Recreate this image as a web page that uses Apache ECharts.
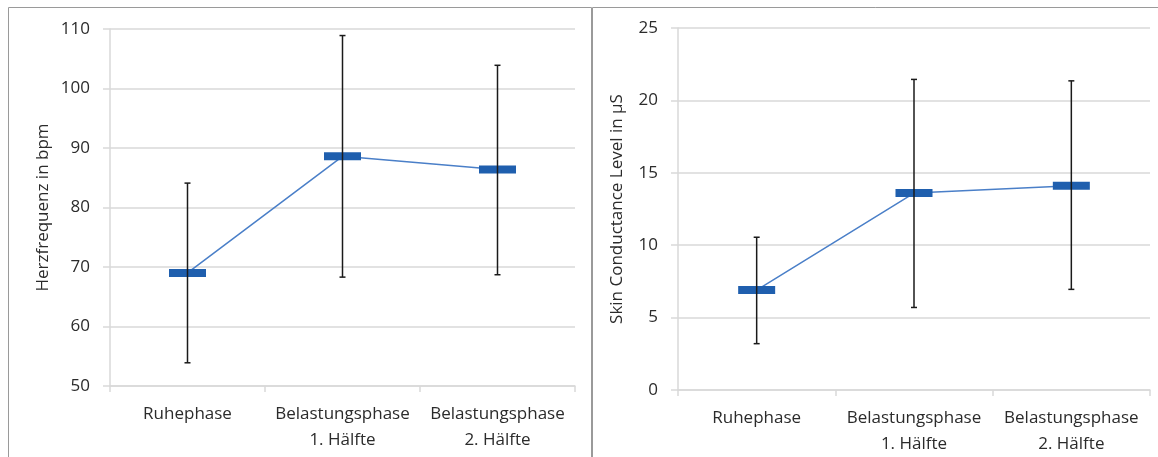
<!DOCTYPE html>
<html>
<head>
<meta charset="utf-8">
<script src="https://cdn.jsdelivr.net/npm/echarts@6/dist/echarts.min.js"></script>
<style>
  html, body { margin: 0; padding: 0; background: #fff; }
  #chart { width: 1158px; height: 457px; }
</style>
</head>
<body>
<div id="chart"></div>
<script>
// categories shared by both panels
var categories = ['Ruhephase', 'Belastungsphase\n1. Hälfte', 'Belastungsphase\n2. Hälfte'];

// Herzfrequenz (bpm): mean, lower and upper end of the error bar
var hrMean = [69.0, 88.6, 86.4];
var hrLow = [53.9, 68.3, 68.7];
var hrHigh = [84.1, 108.9, 103.9];

// Skin Conductance Level (µS)
var sclMean = [6.9, 13.6, 14.1];
var sclLow = [3.2, 5.7, 6.95];
var sclHigh = [10.55, 21.45, 21.35];

var FONT = '"Open Sans", "Liberation Sans", sans-serif';
var GRID_COLOR = '#d9d9d9';
var TEXT_COLOR = '#2b2b2b';

function errData(low, high) {
    var out = [];
    for (var i = 0; i < low.length; i++) {
        out.push([i, low[i], high[i]]);
    }
    return out;
}

function renderErr(params, api) {
    var lo = api.coord([api.value(0), api.value(1)]);
    var hi = api.coord([api.value(0), api.value(2)]);
    var cap = 3;
    var st = { stroke: '#1a1a1a', lineWidth: 1.5 };
    return {
        type: 'group',
        children: [
            { type: 'line', shape: { x1: lo[0], y1: lo[1], x2: hi[0], y2: hi[1] }, style: st },
            { type: 'line', shape: { x1: lo[0] - cap, y1: lo[1], x2: lo[0] + cap, y2: lo[1] }, style: st },
            { type: 'line', shape: { x1: hi[0] - cap, y1: hi[1], x2: hi[0] + cap, y2: hi[1] }, style: st }
        ]
    };
}

function xAxisCfg(gridIndex) {
    return {
        type: 'category',
        gridIndex: gridIndex,
        data: categories,
        boundaryGap: true,
        axisLine: { lineStyle: { color: GRID_COLOR, width: 1.5 } },
        axisTick: { show: true, length: 6, lineStyle: { color: GRID_COLOR, width: 1.5 } },
        axisLabel: {
            color: TEXT_COLOR, fontFamily: FONT, fontSize: 17, lineHeight: 26, margin: 15,
            interval: 0, hideOverlap: false
        }
    };
}

function yAxisCfg(gridIndex, name, min, max, interval, gap) {
    return {
        type: 'value',
        gridIndex: gridIndex,
        min: min,
        max: max,
        interval: interval,
        name: name,
        nameLocation: 'middle',
        nameGap: gap,
        nameTextStyle: { color: TEXT_COLOR, fontFamily: FONT, fontSize: 17 },
        axisLine: { show: true, lineStyle: { color: GRID_COLOR, width: 1.5 } },
        axisTick: { show: true, length: 7, lineStyle: { color: GRID_COLOR, width: 1.5 } },
        axisLabel: { color: TEXT_COLOR, fontFamily: FONT, fontSize: 17, margin: 20 },
        splitLine: { show: true, lineStyle: { color: GRID_COLOR, width: 1.5 } }
    };
}

function lineSeries(idx, data) {
    return {
        type: 'line',
        xAxisIndex: idx,
        yAxisIndex: idx,
        data: data,
        showSymbol: false,
        lineStyle: { color: '#4a7fc8', width: 1.5 },
        z: 2
    };
}

function markSeries(idx, data) {
    return {
        type: 'scatter',
        xAxisIndex: idx,
        yAxisIndex: idx,
        data: data,
        symbol: 'rect',
        symbolSize: [37, 8],
        itemStyle: { color: '#1f5fae', opacity: 1 },
        z: 3
    };
}

function errSeries(idx, low, high) {
    return {
        type: 'custom',
        xAxisIndex: idx,
        yAxisIndex: idx,
        data: errData(low, high),
        renderItem: renderErr,
        z: 4
    };
}

var myChart = echarts.init(document.getElementById('chart'), null, { renderer: 'canvas' });
var option = {
    backgroundColor: '#fff',
    animation: false,
    graphic: [
        { type: 'rect', shape: { x: 8.5, y: 7.5, width: 583, height: 470 }, style: { fill: 'none', stroke: '#9a9a9a', lineWidth: 1 }, silent: true },
        { type: 'rect', shape: { x: 592.5, y: 7.5, width: 600, height: 470 }, style: { fill: 'none', stroke: '#9a9a9a', lineWidth: 1 }, silent: true }
    ],
    grid: [
        { left: 110, top: 29, width: 465, height: 357 },
        { left: 678, top: 28, width: 472, height: 362 }
    ],
    xAxis: [xAxisCfg(0), xAxisCfg(1)],
    yAxis: [
        yAxisCfg(0, 'Herzfrequenz in bpm', 50, 110, 10, 58),
        yAxisCfg(1, 'Skin Conductance Level in µS', 0, 25, 5, 52)
    ],
    series: [
        lineSeries(0, hrMean),
        markSeries(0, hrMean),
        errSeries(0, hrLow, hrHigh),
        lineSeries(1, sclMean),
        markSeries(1, sclMean),
        errSeries(1, sclLow, sclHigh)
    ]
};
myChart.setOption(option);
</script>
</body>
</html>
